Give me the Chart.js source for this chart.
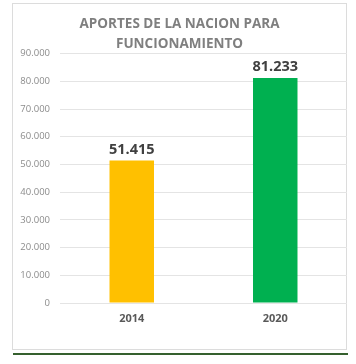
<!DOCTYPE html>
<html>
<head>
<meta charset="utf-8">
<script src="https://cdn.jsdelivr.net/npm/chart.js@4/dist/chart.umd.min.js"></script>
<style>
  html, body { margin: 0; padding: 0; background: #ffffff; }
  #wrap { position: relative; width: 356px; height: 364px; }
  #box { position: absolute; left: 12px; top: 3px; width: 335px; height: 347px; border: 1px solid #dcdcdc; box-sizing: border-box; }
  #rule { position: absolute; left: 13px; top: 353px; width: 335px; height: 2px; background: #35602e; }
  canvas { position: absolute; left: 0; top: 0; }
</style>
</head>
<body>
<div id="wrap">
  <div id="box"></div>
  <div id="rule"></div>
  <canvas id="c" width="356" height="364"></canvas>
</div>
<script>
const categories = ["2014", "2020"];
const values = [51415, 81233];
const barColors = ["#FFC000", "#00B050"];
const titleLines = ["APORTES DE LA NACION PARA", "FUNCIONAMIENTO"];
const yTicks = [0, 10000, 20000, 30000, 40000, 50000, 60000, 70000, 80000, 90000];

const FONT = "'Open Sans', sans-serif";

function fmt(v) {
  return String(v).replace(/\B(?=(\d{3})+(?!\d))/g, ".");
}

const valueLabels = {
  id: 'valueLabels',
  afterDatasetsDraw(chart) {
    const ctx = chart.ctx;
    const meta = chart.getDatasetMeta(0);
    ctx.save();
    ctx.font = "bold 14.5px " + FONT;
    ctx.fillStyle = "#404040";
    ctx.textAlign = "center";
    ctx.textBaseline = "middle";
    meta.data.forEach((bar, i) => {
      ctx.fillText(fmt(values[i]), bar.x, bar.y - 11);
    });
    ctx.restore();
  }
};

// center the title over the framed box rather than the canvas
const titleFrame = {
  id: 'titleFrame',
  beforeDraw(chart) {
    if (chart.titleBlock) {
      chart.titleBlock.left = 13;
      chart.titleBlock.right = 346;
    }
  }
};

new Chart(document.getElementById('c'), {
  type: 'bar',
  data: {
    labels: categories,
    datasets: [{
      data: values,
      backgroundColor: barColors,
      borderWidth: 0,
      categoryPercentage: 1,
      barPercentage: 0.31
    }]
  },
  options: {
    responsive: false,
    animation: false,
    layout: { padding: { left: 0, right: 9, top: 0, bottom: 30 } },
    plugins: {
      legend: { display: false },
      tooltip: { enabled: false },
      title: {
        display: true,
        text: titleLines,
        color: "#7f7f7f",
        font: { family: FONT, size: 13.5, weight: 'bold', lineHeight: 1.47 },
        padding: { top: 14, bottom: 0 }
      }
    },
    scales: {
      x: {
        grid: { display: false, drawTicks: false },
        border: { display: false },
        ticks: {
          color: "#595959",
          font: { family: FONT, size: 11, weight: 'bold' },
          padding: 9
        },
        afterFit(scale) { scale.height = 31; }
      },
      y: {
        min: 0,
        max: 90000,
        afterBuildTicks(scale) { scale.ticks = yTicks.map(v => ({ value: v })); },
        grid: { color: "#e4e4e4", drawTicks: false, lineWidth: 1 },
        border: { display: false },
        ticks: {
          color: "#8c8c8c",
          font: { family: FONT, size: 9.5 },
          padding: 10,
          callback: (v) => fmt(v)
        },
        afterFit(scale) { scale.width = 60; }
      }
    }
  },
  plugins: [valueLabels, titleFrame]
});
</script>
</body>
</html>
